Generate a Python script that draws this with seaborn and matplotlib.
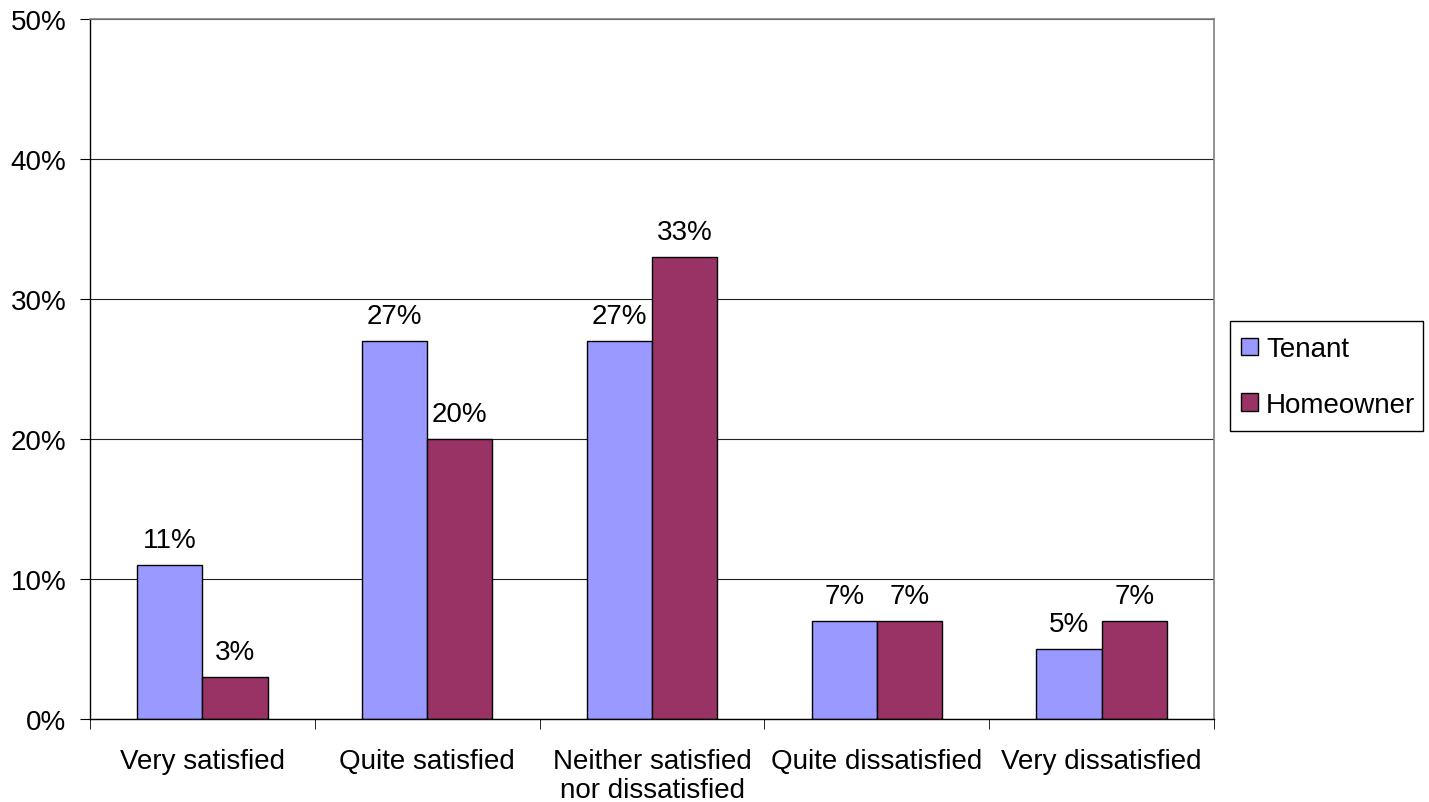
import matplotlib
matplotlib.use("Agg")
import matplotlib.pyplot as plt
import seaborn as sns
import pandas as pd
from matplotlib.patches import Rectangle
from matplotlib.ticker import FixedLocator, PercentFormatter

categories = ["Very satisfied", "Quite satisfied", "Neither satisfied\nnor dissatisfied",
              "Quite dissatisfied", "Very dissatisfied"]
series = ["Tenant", "Homeowner"]
tenant = [11, 27, 27, 7, 5]
homeowner = [3, 20, 33, 7, 7]
colors = ["#9999FF", "#993366"]

df = pd.DataFrame({
    "category": categories * 2,
    "group": [series[0]] * len(categories) + [series[1]] * len(categories),
    "value": tenant + homeowner,
})

sns.set_style("white")
plt.rcParams["font.family"] = ["Liberation Sans", "DejaVu Sans"]
plt.rcParams["text.color"] = "black"
plt.rcParams["xtick.labelcolor"] = "black"
plt.rcParams["ytick.labelcolor"] = "black"
FS = 20

fig = plt.figure(figsize=(14.29, 8.03), dpi=100)
ax = fig.add_axes([90 / 1429, 1 - 720 / 803, 1124 / 1429, 700 / 803])

sns.barplot(data=df, x="category", y="value", hue="group", palette=colors,
            width=0.58, gap=0, edgecolor="black", linewidth=1.0,
            saturation=1, ax=ax, legend=False)

for cont in ax.containers:
    ax.bar_label(cont, fmt="%g%%", padding=9, fontsize=FS, color="black")

ax.set_xlim(-0.5, len(categories) - 0.5)
ax.set_ylim(0, 50)
ax.yaxis.set_major_locator(FixedLocator([0, 10, 20, 30, 40, 50]))
ax.yaxis.set_major_formatter(PercentFormatter(decimals=0))
ax.grid(axis="y", color="#222222", linewidth=0.8)
ax.set_axisbelow(True)

ax.set_xlabel("")
ax.set_ylabel("")
ax.tick_params(axis="x", which="major", length=0, labelsize=FS, pad=21)
for lbl in ax.get_xticklabels():
    lbl.set_linespacing(1.12)
ax.xaxis.set_minor_locator(FixedLocator([i + 0.5 for i in range(-1, len(categories))]))
ax.tick_params(axis="x", which="minor", length=7, direction="out", color="black", bottom=True)
ax.tick_params(axis="y", length=7, direction="out", color="black", labelsize=FS, left=True, pad=10)

for side in ["top", "right"]:
    ax.spines[side].set_visible(True)
    ax.spines[side].set_color("#808080")
    ax.spines[side].set_linewidth(1.2)
for side in ["left", "bottom"]:
    ax.spines[side].set_color("black")
    ax.spines[side].set_linewidth(1.0)

# legend entries without matplotlib's frame; the box is drawn separately
handles = [plt.Rectangle((0, 0), 1, 1, facecolor=c, edgecolor="black", linewidth=1.0)
           for c in colors]
leg = fig.legend(handles, series, loc="center left",
                 bbox_to_anchor=(1241 / 1429, 1 - 378 / 803),
                 fontsize=FS, frameon=False,
                 handlelength=0.6, handleheight=0.6, handletextpad=0.3,
                 labelspacing=1.05, borderpad=0, borderaxespad=0)
fig.patches.append(Rectangle((1230 / 1429, 1 - 432 / 803), 193 / 1429, 110 / 803,
                             transform=fig.transFigure, facecolor="white",
                             edgecolor="black", linewidth=1.0, zorder=0))

fig.savefig("out.png", dpi=100, facecolor="white")
